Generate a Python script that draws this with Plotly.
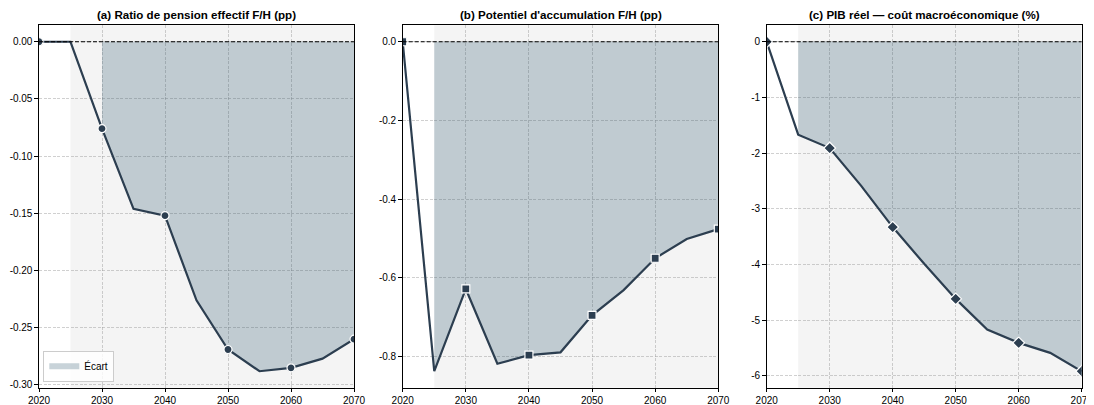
import plotly.graph_objects as go

years = [2020, 2025, 2030, 2035, 2040, 2045, 2050, 2055, 2060, 2065, 2070]
ratio_pension = [0.0, 0.0, -0.076, -0.146, -0.152, -0.226, -0.269, -0.288, -0.285, -0.277, -0.260]
potentiel_accum = [0.0, -0.837, -0.628, -0.818, -0.796, -0.789, -0.695, -0.631, -0.550, -0.501, -0.476]
pib_reel = [0.0, -1.67, -1.91, -2.59, -3.33, -3.99, -4.62, -5.17, -5.41, -5.59, -5.92]

titles = ["(a) Ratio de pension effectif F/H (pp)",
          "(b) Potentiel d'accumulation F/H (pp)",
          "(c) PIB réel — coût macroéconomique (%)"]
x_ticks = [2020, 2030, 2040, 2050, 2060, 2070]
y_ticks_a = [0.0, -0.05, -0.10, -0.15, -0.20, -0.25, -0.30]
y_labels_a = ["0.00", "-0.05", "-0.10", "-0.15", "-0.20", "-0.25", "-0.30"]
y_ticks_b = [0.0, -0.2, -0.4, -0.6, -0.8]
y_labels_b = ["0.0", "-0.2", "-0.4", "-0.6", "-0.8"]
y_ticks_c = [0, -1, -2, -3, -4, -5, -6]
y_labels_c = ["0", "-1", "-2", "-3", "-4", "-5", "-6"]
fill_start = [2030, 2025, 2025]
legend_label = "Écart"

# page body has an 8px margin: shift everything by it
OFF = 8
W, H = 1094 - OFF, 405 - OFF
LINE = "#2c3e50"
FILL = "rgba(36,80,104,0.25)"
SPAN = "#f4f4f4"
FONT = "Liberation Sans, Arial, sans-serif"

px_domains = [(39, 354), (402.7, 718.3), (766.7, 1081.7)]
ytop, ybot = 25.3 - OFF, 387.7 - OFF
ydom = [1 - ybot / H, 1 - ytop / H]

panels = [
    (ratio_pension, y_ticks_a, y_labels_a, "circle"),
    (potentiel_accum, y_ticks_b, y_labels_b, "square"),
    (pib_reel, y_ticks_c, y_labels_c, "diamond"),
]

fig = go.Figure()
shapes = []
annotations = []
for i, (vals, yt, yl, sym) in enumerate(panels):
    ax = "" if i == 0 else str(i + 1)
    xa, ya = "x" + ax, "y" + ax
    xs = [x for x in years if x >= fill_start[i]]
    ys = [v for x, v in zip(years, vals) if x >= fill_start[i]]
    fig.add_trace(go.Scatter(
        x=xs, y=ys, mode="none", fill="tozeroy", fillcolor=FILL,
        name=legend_label, showlegend=(i == 0), xaxis=xa, yaxis=ya,
        hoverinfo="skip"))
    fig.add_trace(go.Scatter(
        x=years, y=vals, mode="lines", line=dict(color=LINE, width=2.2),
        showlegend=False, xaxis=xa, yaxis=ya))
    fig.add_trace(go.Scatter(
        x=years[::2], y=vals[::2], mode="markers",
        marker=dict(symbol=sym, size=8 if sym != "diamond" else 9, color=LINE,
                    line=dict(color="white", width=1.2)),
        showlegend=False, xaxis=xa, yaxis=ya))

    vmin = min(vals)
    vmax = max(vals)
    pad = 0.05 * (vmax - vmin)
    d = [(px_domains[i][0] - OFF) / W, (px_domains[i][1] - OFF) / W]
    axis_common = dict(
        showline=True, linecolor="black", linewidth=1.1, mirror=True,
        ticks="outside", ticklen=3.5, tickwidth=1, tickcolor="black",
        showgrid=True, gridcolor="rgba(150,150,150,0.45)", griddash="3px,1.5px",
        gridwidth=0.8, zeroline=False, ticklabeloverflow="allow",
        tickfont=dict(family=FONT, size=10, color="black"), automargin=False,
    )
    fig.update_layout(**{
        "xaxis" + ax: dict(domain=d, range=[2020, 2070], tickvals=x_ticks,
                           ticktext=[str(t) for t in x_ticks], anchor=ya,
                           **axis_common),
        "yaxis" + ax: dict(domain=ydom, range=[vmin - pad, vmax + pad],
                           tickvals=yt, ticktext=yl, anchor=xa,
                           **axis_common),
    })
    shapes.append(dict(type="rect", xref=xa, yref=ya + " domain",
                       x0=2025, x1=2070, y0=0, y1=1, fillcolor=SPAN,
                       line=dict(width=0), layer="below"))
    shapes.append(dict(type="line", xref=xa + " domain", yref=ya,
                       x0=0, x1=1, y0=0, y1=0,
                       line=dict(color="black", width=1.2, dash="4px,2px"),
                       layer="above"))
    annotations.append(dict(text="<b>" + titles[i] + "</b>", xref="paper",
                            yref="paper", x=(d[0] + d[1]) / 2,
                            y=1 - (15 - OFF) / H,
                            xanchor="center", yanchor="middle", showarrow=False,
                            font=dict(family=FONT, size=11.6, color="black")))

fig.update_layout(
    width=W, height=H, margin=dict(l=0, r=0, t=0, b=0),
    paper_bgcolor="white", plot_bgcolor="white",
    shapes=shapes, annotations=annotations,
    font=dict(family=FONT, size=10, color="black"),
    legend=dict(x=(43.3 - OFF) / W, y=1 - (381.7 - OFF) / H,
                xanchor="left", yanchor="bottom",
                bgcolor="rgba(255,255,255,0.8)", bordercolor="#cccccc",
                borderwidth=1, itemwidth=30,
                font=dict(family=FONT, size=10, color="black")),
)

fig.write_html("out.html")
